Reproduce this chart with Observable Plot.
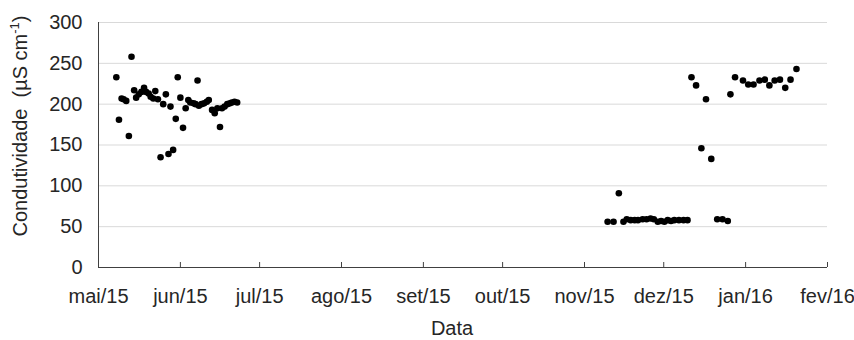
<!DOCTYPE html>
<html>
<head>
<meta charset="utf-8">
<script src="https://cdn.jsdelivr.net/npm/d3@7"></script>
<script src="https://cdn.jsdelivr.net/npm/@observablehq/plot@0.6"></script>
<style>
  body { margin: 0; background: #fff; }
  #chart svg { display: block; }
</style>
</head>
<body>
<div id="chart"></div>
<script>
// Sampling dates (May–June 2015)
const mayJunDates = [
  "2015-05-07T18:00Z","2015-05-08T18:00Z","2015-05-09T18:00Z","2015-05-10T12:00Z","2015-05-11T12:00Z",
  "2015-05-12T12:00Z","2015-05-13T12:00Z","2015-05-14T12:00Z","2015-05-15T06:00Z","2015-05-16T06:00Z",
  "2015-05-17T06:00Z","2015-05-18T06:00Z","2015-05-19T00:00Z","2015-05-20T00:00Z","2015-05-20T18:00Z",
  "2015-05-21T18:00Z","2015-05-22T12:00Z","2015-05-23T12:00Z","2015-05-24T12:00Z","2015-05-25T12:00Z",
  "2015-05-26T12:00Z","2015-05-27T12:00Z","2015-05-28T06:00Z","2015-05-29T06:00Z","2015-05-30T06:00Z",
  "2015-05-31T00:00Z","2015-06-01T00:00Z","2015-06-02T00:00Z","2015-06-03T00:00Z","2015-06-04T00:00Z",
  "2015-06-04T18:00Z","2015-06-06T00:00Z","2015-06-06T18:00Z","2015-06-07T12:00Z","2015-06-08T00:00Z",
  "2015-06-09T00:00Z","2015-06-10T00:00Z","2015-06-11T00:00Z","2015-06-11T18:00Z","2015-06-13T00:00Z",
  "2015-06-14T00:00Z","2015-06-15T00:00Z","2015-06-16T00:00Z","2015-06-16T18:00Z","2015-06-17T18:00Z",
  "2015-06-18T18:00Z","2015-06-19T18:00Z","2015-06-20T12:00Z","2015-06-21T12:00Z","2015-06-22T12:00Z"
];
const mayJunValues = [
  233, 181, 207, 206, 204,
  161, 258, 217, 208, 212,
  215, 220, 215, 213, 209,
  207, 216, 206, 135, 200,
  212, 139, 197, 144, 182,
  233, 208, 171, 195, 205,
  202, 201, 200, 229, 198,
  200, 201, 203, 205, 193,
  189, 195, 172, 195, 197,
  200, 201, 202, 203, 202
];

// Sampling dates (November 2015 – January 2016)
const novJanDates = [
  "2015-11-09T18:00Z","2015-11-12T00:00Z","2015-11-14T00:00Z","2015-11-15T18:00Z","2015-11-17T00:00Z",
  "2015-11-18T12:00Z","2015-11-20T00:00Z","2015-11-21T06:00Z","2015-11-23T00:00Z","2015-11-24T12:00Z",
  "2015-11-26T00:00Z","2015-11-27T06:00Z","2015-11-28T18:00Z","2015-11-30T00:00Z","2015-12-01T06:00Z",
  "2015-12-02T12:00Z","2015-12-03T18:00Z","2015-12-05T00:00Z","2015-12-06T18:00Z","2015-12-08T12:00Z",
  "2015-12-10T00:00Z","2015-12-11T12:00Z","2015-12-13T06:00Z","2015-12-15T06:00Z","2015-12-17T00:00Z",
  "2015-12-19T00:00Z","2015-12-21T06:00Z","2015-12-23T06:00Z","2015-12-25T06:00Z","2015-12-26T06:00Z",
  "2015-12-28T00:00Z","2015-12-31T00:00Z","2016-01-02T00:00Z","2016-01-04T00:00Z","2016-01-06T06:00Z",
  "2016-01-08T06:00Z","2016-01-10T00:00Z","2016-01-12T00:00Z","2016-01-14T00:00Z","2016-01-16T00:00Z",
  "2016-01-18T00:00Z","2016-01-20T06:00Z"
];
const novJanValues = [
  56, 56, 91, 56, 59,
  58, 58, 58, 59, 59,
  60, 59, 56, 57, 56,
  58, 57, 58, 58, 58,
  58, 233, 223, 146, 206,
  133, 59, 59, 57, 212,
  233, 229, 224, 224, 229,
  230, 223, 229, 230, 220,
  230, 243
];

const monthTicks = ["2015-05-01","2015-06-01","2015-07-01","2015-08-01","2015-09-01",
                    "2015-10-01","2015-11-01","2015-12-01","2016-01-01","2016-02-01"];
const monthLabels = ["mai/15","jun/15","jul/15","ago/15","set/15",
                     "out/15","nov/15","dez/15","jan/16","fev/16"];
const yTicks = [0, 50, 100, 150, 200, 250, 300];
const yLabelMain = "Condutividade  (µS cm";
const yLabelSup = "-1";
const yLabelEnd = ")";
const xLabel = "Data";

const data = [
  ...mayJunDates.map((d, i) => ({date: new Date(d), value: mayJunValues[i]})),
  ...novJanDates.map((d, i) => ({date: new Date(d), value: novJanValues[i]}))
];
const tickDates = monthTicks.map(d => new Date(d));
const textColor = "#262626";
const axisColor = "#404040";

const chart = Plot.plot({
  width: 854,
  height: 340,
  marginLeft: 98,
  marginRight: 27,
  marginTop: 22,
  marginBottom: 73,
  style: {
    fontFamily: "'Liberation Sans', Arial, sans-serif",
    fontSize: "20px",
    color: textColor,
    background: "#fff",
    overflow: "visible"
  },
  x: {type: "utc", domain: [tickDates[0], tickDates[tickDates.length - 1]]},
  y: {domain: [0, 300]},
  marks: [
    Plot.gridY(yTicks.filter(v => v > 0), {stroke: "#d9d9d9", strokeOpacity: 1}),
    Plot.axisY(yTicks, {tickSize: 0, tickPadding: 16, label: null, fontSize: 20, fill: textColor}),
    Plot.axisX(tickDates, {
      tickSize: 0, tickPadding: 21, label: null, fontSize: 20, fill: textColor,
      tickFormat: d => monthLabels[tickDates.findIndex(t => +t === +d)]
    }),
    Plot.tickX(tickDates, {x: d => d, insetTop: 240, stroke: axisColor}),
    Plot.ruleY([0], {stroke: axisColor}),
    Plot.ruleX([tickDates[0]], {stroke: axisColor}),
    Plot.dot(data, {x: "date", y: "value", r: 3.3, fill: "#000", stroke: null})
  ]
});

const svg = d3.select(chart);
const yl = svg.append("text")
  .attr("transform", "translate(27,126) rotate(-90)")
  .attr("text-anchor", "middle")
  .attr("font-size", 20)
  .attr("fill", textColor)
  .style("white-space", "pre");
yl.append("tspan").text(yLabelMain);
yl.append("tspan").attr("font-size", 13).attr("dy", -8).text(yLabelSup);
yl.append("tspan").attr("font-size", 20).attr("dy", 8).text(yLabelEnd);

svg.append("text")
  .attr("x", 452)
  .attr("y", 335)
  .attr("text-anchor", "middle")
  .attr("font-size", 20)
  .attr("fill", textColor)
  .text(xLabel);

document.getElementById("chart").appendChild(chart);
</script>
</body>
</html>
